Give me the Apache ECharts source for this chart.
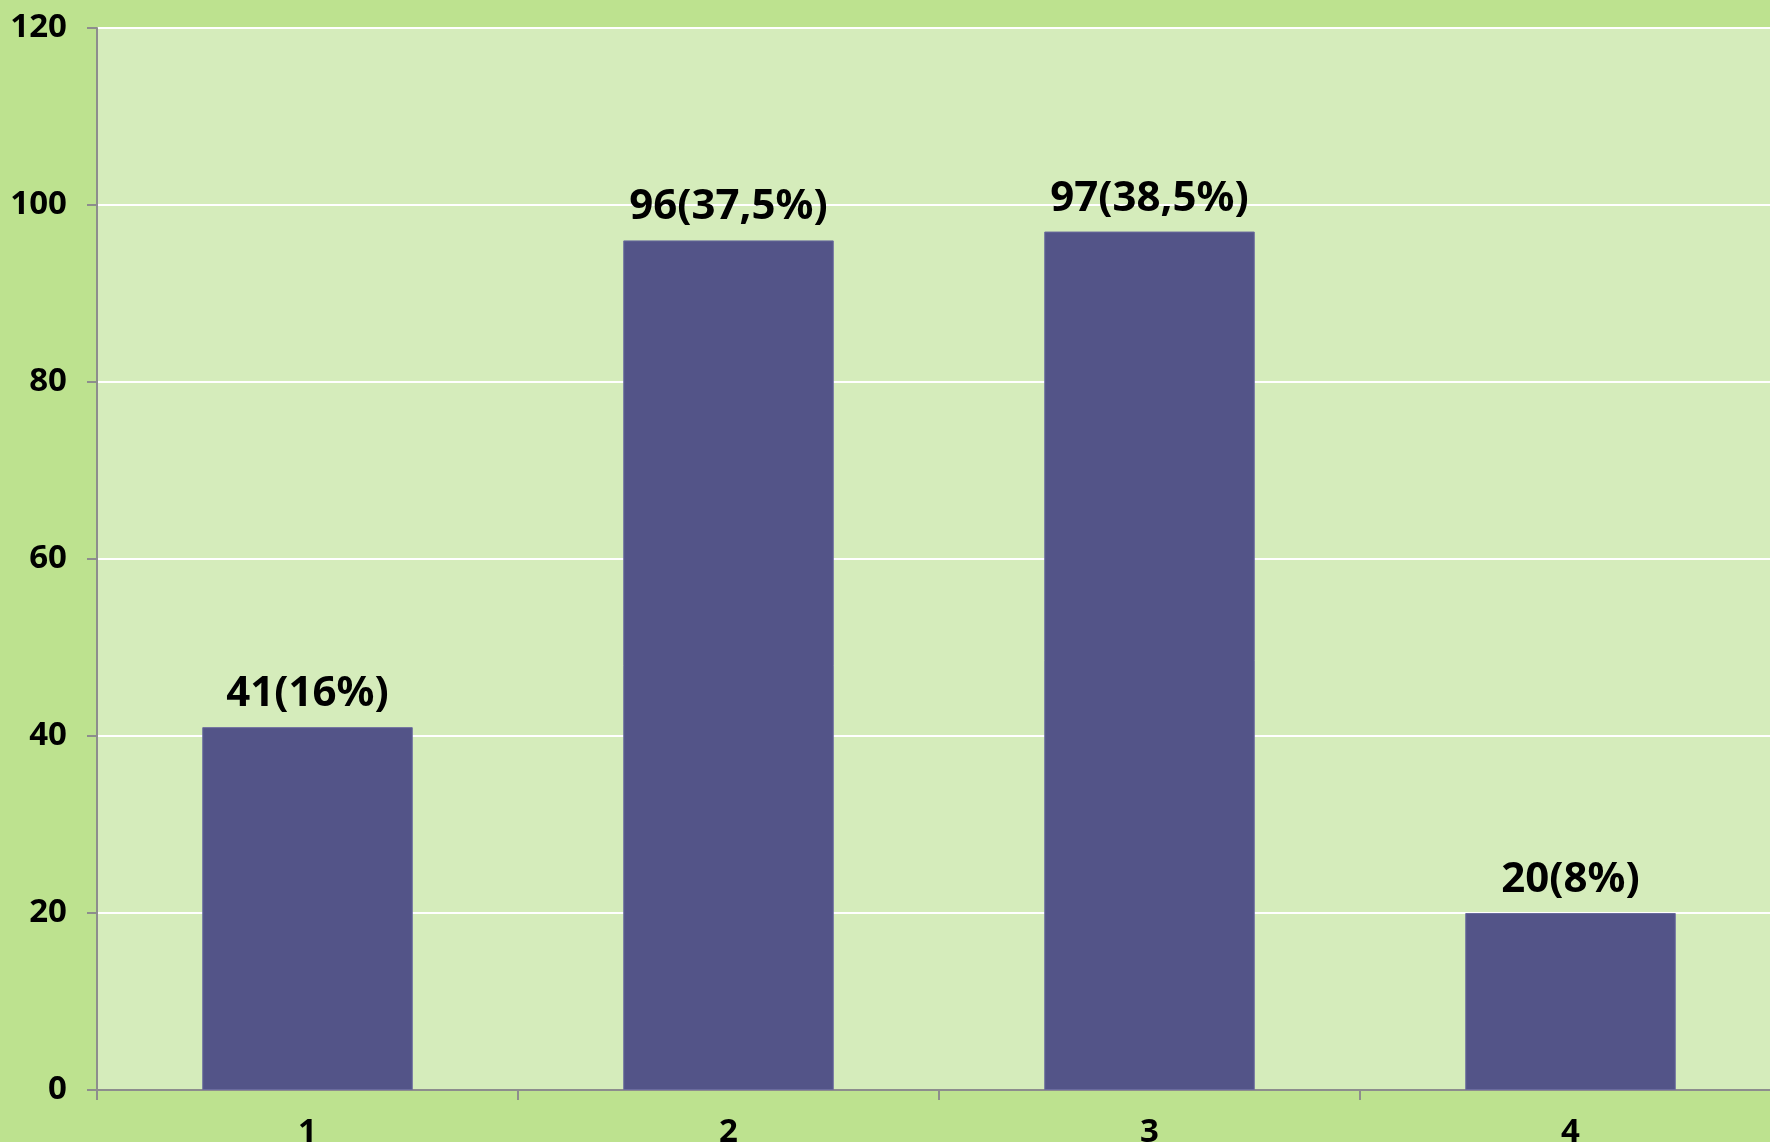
<!DOCTYPE html>
<html>
<head>
<meta charset="utf-8">
<style>
  html, body { margin: 0; padding: 0; background: #bde28f; overflow: hidden; }
  #chart { width: 1770px; height: 1142px; }
</style>
<script src="https://cdn.jsdelivr.net/npm/echarts@6/dist/echarts.min.js"></script>
</head>
<body>
<div id="chart"></div>
<script>
const categories = ['1', '2', '3', '4'];
const values = [41, 96, 97, 20];
const labels = ['41(16%)', '96(37,5%)', '97(38,5%)', '20(8%)'];
const yTicks = [0, 20, 40, 60, 80, 100, 120];

const chart = echarts.init(document.getElementById('chart'), null, { renderer: 'canvas' });
chart.setOption({
  backgroundColor: '#bde28f',
  animation: false,
  grid: {
    left: 97, right: -11, top: 28, bottom: 52,
    containLabel: false,
    outerBoundsMode: 'none',
    show: true, backgroundColor: '#d5ecbb', borderWidth: 0
  },
  xAxis: {
    type: 'category',
    data: categories,
    axisLine: { lineStyle: { color: '#8d8d8d', width: 2 } },
    axisTick: { show: true, length: 10, alignWithLabel: false, lineStyle: { color: '#8d8d8d', width: 2 } },
    axisLabel: {
      color: '#000', fontSize: 33, fontWeight: 'bold',
      fontFamily: 'Noto Sans, DejaVu Sans, sans-serif', margin: 26
    }
  },
  yAxis: {
    type: 'value',
    min: yTicks[0], max: yTicks[yTicks.length - 1], interval: 20,
    axisLine: { show: true, lineStyle: { color: '#8d8d8d', width: 2 } },
    axisTick: { show: true, length: 10, lineStyle: { color: '#8d8d8d', width: 2 } },
    splitLine: { show: true, lineStyle: { color: '#ffffff', width: 2 } },
    axisLabel: {
      color: '#000', fontSize: 33, fontWeight: 'bold',
      fontFamily: 'Noto Sans, DejaVu Sans, sans-serif', margin: 30
    }
  },
  series: [{
    type: 'bar',
    data: values,
    barCategoryGap: '50%',
    itemStyle: { color: '#535488', borderColor: '#6a6b9e', borderWidth: 1 },
    label: {
      show: true, position: 'top', distance: 12,
      formatter: function (p) { return labels[p.dataIndex]; },
      color: '#000', fontSize: 42, fontWeight: 'bold',
      fontFamily: "'Noto Sans', sans-serif"
    }
  }]
});
</script>
</body>
</html>
